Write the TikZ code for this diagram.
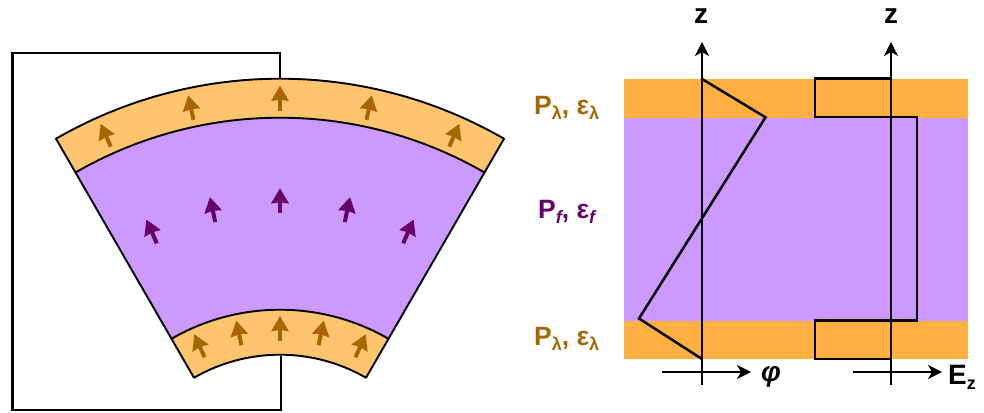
\documentclass[tikz,border=0pt]{standalone}
\usepackage{fontspec}
\setmainfont{Liberation Sans}
\usetikzlibrary{arrows.meta}
\definecolor{bandL}{HTML}{FFC46E}
\definecolor{bandR}{HTML}{FFB040}
\definecolor{film}{HTML}{CC99FF}
\definecolor{brownA}{HTML}{A86600}
\definecolor{purpA}{HTML}{660066}
\newcommand{\subtxt}[1]{\raisebox{-5.5pt}{\fontsize{18}{18}\selectfont #1}}
\tikzset{
  wire/.style={line width=2.5pt,line join=miter,black},
  wedge/.style={draw=black,line width=1.9pt,line join=round},
  axis/.style={line width=2.2pt,black,-{Stealth[length=14pt,width=14pt,inset=4pt]}},
  dipoleB/.style={line width=4pt,brownA,-{Stealth[length=15pt,width=17pt,inset=1pt]}},
  dipoleP/.style={line width=4pt,purpA,-{Stealth[length=15pt,width=17pt,inset=1pt]}},
  lab/.style={inner sep=0pt,anchor=base west,font=\bfseries\fontsize{26.5}{26.5}\selectfont},
}
\begin{document}
\begin{tikzpicture}[x=1pt,y=-1pt]
\useasboundingbox (0,0) rectangle (984,412);
% outline of the circuit
\draw[wire] (280,79) -- (280,53) -- (12.5,53) -- (12.5,410) -- (281,410) -- (281,356);
% wedge
\begin{scope}[shift={(280,526.7)}]
\begin{scope}[x=1pt,y=1pt]
  \path[fill=film] (120:409) arc[start angle=120,end angle=60,radius=409]
     -- (60:217) arc[start angle=60,end angle=120,radius=217] -- cycle;
  \path[wedge,fill=bandL] (120:448) arc[start angle=120,end angle=60,radius=448]
     -- (60:409) arc[start angle=60,end angle=120,radius=409] -- cycle;
  \path[wedge,fill=bandL] (120:217) arc[start angle=120,end angle=60,radius=217]
     -- (60:172) arc[start angle=60,end angle=120,radius=172] -- cycle;
  \draw[wedge] (120:409) -- (120:217);
  \draw[wedge] (60:409) -- (60:217);
  \foreach \a in {-24,-12,0,12,24}{
    \draw[dipoleB] (90+\a:416) -- (90+\a:441);
    \draw[dipoleB] (90+\a:185.5) -- (90+\a:210.7);
  }
  \foreach \a/\ra/\rb in {-23.5/309/335,-12/311.5/337,0/313.5/338.5,12/311.5/337,23.5/309/335}{
    \draw[dipoleP] (90+\a:\ra) -- (90+\a:\rb);
  }
\end{scope}
\end{scope}
% layer stack
\fill[bandR] (624,79) rectangle (968,118);
\fill[film] (624,118) rectangle (968,321);
\fill[bandR] (624,321) rectangle (968,359);
% axes
\coordinate (phiB) at (702,385);
\coordinate (phiT) at (702,42);
\coordinate (EB) at (891,385);
\coordinate (ET) at (891,42);
\coordinate (phiL) at (662,372);
\coordinate (phiR) at (751,372);
\coordinate (EL) at (853,372);
\coordinate (ER) at (942,372);
\draw[axis] (phiB) -- (phiT);
\draw[axis] (EB) -- (ET);
\draw[axis] (phiL) -- (phiR);
\draw[axis] (EL) -- (ER);
% profiles
\draw[wire] (702,79) -- (765.5,117.3) -- (639,318.5) -- (702,359);
\draw[wire] (891,78.3) -- (815,78.3) -- (815,117) -- (917,117) -- (917,320.7) -- (815,320.7) -- (815,359) -- (891,359);
% labels
\node[lab,text=brownA] (l1) at (534,114) {P\subtxt{λ}, ε\subtxt{λ}};
\node[lab,text=purpA] (l2) at (538,218) {P\subtxt{\itshape f}, ε\subtxt{\itshape f}};
\node[lab,text=brownA] (l3) at (534,345) {P\subtxt{λ}, ε\subtxt{λ}};
\node[lab,font=\bfseries\fontsize{28}{28}\selectfont] (zl) at (694,24) {z};
\node[lab,font=\bfseries\fontsize{28}{28}\selectfont] (zr) at (884,24) {z};
\node[lab,font=\bfseries\fontsize{28}{28}\selectfont] (phi) at (761,381) {\itshape φ};
\node[lab,font=\bfseries\fontsize{28}{28}\selectfont] (Ez) at (948,384) {E\subtxt{z}};
\end{tikzpicture}
\end{document}
